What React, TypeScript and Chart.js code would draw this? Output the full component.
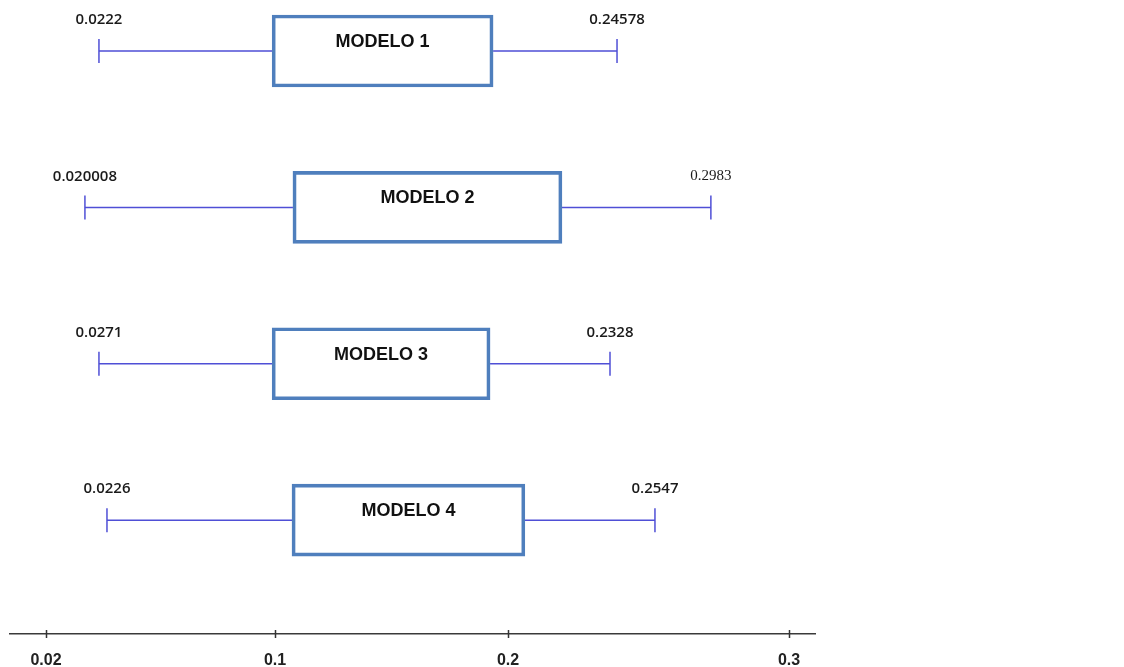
import { useEffect, useRef } from 'react';
import { Chart, LinearScale, registerables } from 'chart.js';

// ---- data ----
const MODELS = ['MODELO 1', 'MODELO 2', 'MODELO 3', 'MODELO 4'];
const WHISKER_LOW = [0.0385, 0.0336, 0.0385, 0.0413];
const BOX_Q1 = [0.099, 0.1077, 0.099, 0.1073];
const BOX_Q3 = [0.1936, 0.2192, 0.1923, 0.206];
const WHISKER_HIGH = [0.2388, 0.2722, 0.2363, 0.2523];
const LOW_LABELS = ['0.0222', '0.020008', '0.0271', '0.0226'];
const HIGH_LABELS = ['0.24578', '0.2983', '0.2328', '0.2547'];
const AXIS_TICKS = [0.02, 0.1, 0.2, 0.3];

// ---- axis geometry: the original axis is drawn non-uniformly ----
const AXIS_BREAK_VALUES = [0.00742, 0.02, 0.1, 0.2, 0.3, 0.30925];
const AXIS_BREAK_FRACTIONS = [0, 0.04472, 0.32919, 0.61863, 0.9677, 1];
const SERIF_LABELS = new Set(['0.2983']);

class PiecewiseScale extends LinearScale {
  static id = 'piecewise';
  static defaults = {};
  toDecimal(v: number) {
    const V = AXIS_BREAK_VALUES, F = AXIS_BREAK_FRACTIONS;
    let i = 0;
    while (i < V.length - 2 && v > V[i + 1]) i++;
    return F[i] + ((v - V[i]) / (V[i + 1] - V[i])) * (F[i + 1] - F[i]);
  }
  fromDecimal(d: number) {
    const V = AXIS_BREAK_VALUES, F = AXIS_BREAK_FRACTIONS;
    let i = 0;
    while (i < F.length - 2 && d > F[i + 1]) i++;
    return V[i] + ((d - F[i]) / (F[i + 1] - F[i])) * (V[i + 1] - V[i]);
  }
  getPixelForValue(value: any) {
    if (value === null || value === undefined || Number.isNaN(+value)) return NaN;
    return this.getPixelForDecimal(this.toDecimal(+value));
  }
  getValueForPixel(pixel: number) {
    return this.fromDecimal(this.getDecimalForPixel(pixel));
  }
}

Chart.register(...registerables, PiecewiseScale as any);

const BOX_COLOR = '#4f7fbd';
const WHISKER_COLOR = '#4f4fd6';

const annotatePlugin = {
  id: 'annotate',
  afterDraw(chart: any) {
    const { ctx, chartArea } = chart;
    const x = chart.scales.x;
    const y = chart.scales.y;
    ctx.save();
    // tick marks crossing the axis line
    ctx.strokeStyle = '#333333';
    ctx.lineWidth = 1.5;
    const axisY = chartArea.bottom;
    x.ticks.forEach((t: any) => {
      const px = Math.round(x.getPixelForValue(t.value)) + 0.5;
      ctx.beginPath();
      ctx.moveTo(px, axisY - 4);
      ctx.lineTo(px, axisY + 4);
      ctx.stroke();
    });
    ctx.textAlign = 'center';
    ctx.textBaseline = 'middle';
    MODELS.forEach((m, i) => {
      const cx = (x.getPixelForValue(BOX_Q1[i]) + x.getPixelForValue(BOX_Q3[i])) / 2;
      const cy = y.getPixelForValue(i);
      ctx.font = 'bold 18px "Liberation Sans", Arial, sans-serif';
      ctx.fillStyle = '#111111';
      ctx.fillText(m, cx, cy - 9);
      const labelFont = (t: string) =>
        SERIF_LABELS.has(t)
          ? '15px "Liberation Serif", "Times New Roman", serif'
          : '600 15px "Open Sans", "Liberation Sans", sans-serif';
      ctx.fillStyle = '#1a1a1a';
      ctx.font = labelFont(LOW_LABELS[i]);
      ctx.fillText(LOW_LABELS[i], x.getPixelForValue(WHISKER_LOW[i]), cy - 31);
      ctx.font = labelFont(HIGH_LABELS[i]);
      ctx.fillText(HIGH_LABELS[i], x.getPixelForValue(WHISKER_HIGH[i]), cy - 31);
    });
    ctx.restore();
  },
};

export default function App() {
  const ref = useRef<HTMLCanvasElement | null>(null);
  useEffect(() => {
    if (!ref.current) return;
    const whiskerData: any[] = [];
    MODELS.forEach((_, i) => {
      whiskerData.push({ x: WHISKER_LOW[i], y: i });
      whiskerData.push({ x: BOX_Q1[i], y: i });
      whiskerData.push({ x: null, y: null });
      whiskerData.push({ x: BOX_Q3[i], y: i });
      whiskerData.push({ x: WHISKER_HIGH[i], y: i });
      whiskerData.push({ x: null, y: null });
    });
    const chart = new Chart(ref.current, {
      type: 'bar',
      data: {
        datasets: [
          {
            type: 'bar',
            indexAxis: 'y',
            data: MODELS.map((_, i) => ({ x: [BOX_Q1[i], BOX_Q3[i]], y: i })) as any,
            backgroundColor: 'rgba(255,255,255,0)',
            borderColor: BOX_COLOR,
            borderWidth: 3,
            borderSkipped: false,
            barThickness: 72,
          } as any,
          {
            type: 'scatter',
            data: whiskerData,
            showLine: true,
            spanGaps: false,
            clip: false,
            borderColor: WHISKER_COLOR,
            borderWidth: 1.5,
            pointStyle: 'line',
            rotation: 90,
            pointRadius: (c: any) => (c.dataIndex % 6 === 0 || c.dataIndex % 6 === 4 ? 12 : 0),
            pointHoverRadius: 0,
            pointBorderColor: WHISKER_COLOR,
            pointBorderWidth: 1.5,
          } as any,
        ],
      },
      options: {
        animation: false,
        responsive: false,
        events: [],
        layout: { autoPadding: false, padding: { left: 10, right: 309, top: 0, bottom: 0 } },
        plugins: { legend: { display: false }, tooltip: { enabled: false } },
        scales: {
          x: {
            type: 'piecewise' as any,
            min: AXIS_BREAK_VALUES[0],
            max: AXIS_BREAK_VALUES[AXIS_BREAK_VALUES.length - 1],
            bounds: 'data',
            offset: false,
            beginAtZero: false,
            afterBuildTicks: (s: any) => {
              s.ticks = AXIS_TICKS.map((v) => ({ value: v }));
            },
            grid: { display: false, drawTicks: false },
            border: { display: true, color: '#3a3a3a', width: 1.5 },
            ticks: {
              padding: 19,
              color: '#222222',
              font: { family: '"Liberation Sans", Arial, sans-serif', size: 16, weight: 'bold', lineHeight: 1 },
              callback: (v: any) => String(v),
              maxRotation: 0,
              autoSkip: false,
            },
          } as any,
          y: {
            type: 'linear',
            reverse: true,
            min: -0.326,
            max: 3.7278,
            offset: false,
            display: false,
          },
        },
      },
      plugins: [annotatePlugin],
    });
    return () => chart.destroy();
  }, []);
  return (
    <div style={{ position: 'absolute', left: 0, top: 0, width: 1124, height: 667, overflow: 'hidden', background: '#ffffff' }}>
      <canvas ref={ref} width={1124} height={688} style={{ display: 'block' }} />
    </div>
  );
}
